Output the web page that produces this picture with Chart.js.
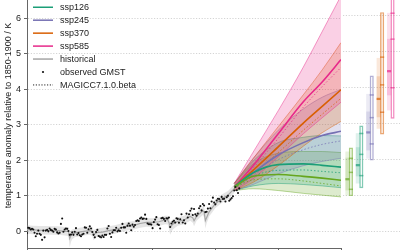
<!DOCTYPE html>
<html><head><meta charset="utf-8">
<script src="https://cdn.jsdelivr.net/npm/chart.js@4.4.1/dist/chart.umd.min.js"></script>
<style>
html,body{margin:0;padding:0;background:#fff;}
body{width:400px;height:250px;overflow:hidden;position:relative;}
#main{position:absolute;left:0;top:-21px;}
#boxes{position:absolute;left:343px;top:-21px;}
</style></head>
<body>
<canvas id="main" width="400" height="291"></canvas>
<canvas id="boxes" width="57" height="269"></canvas>
<script>
// ---------------- data ----------------
const scenarios = ['ssp119', 'ssp126', 'ssp245', 'ssp370', 'ssp585'];
const xTickYears = [1850, 1900, 1950, 2000, 2050, 2100];
const yTickValues = [0, 1, 2, 3, 4, 5, 6, 7];

const projYears = [2015, 2030, 2050, 2070, 2085, 2100];
const ssp119Median = [1.25, 1.55, 1.60, 1.55, 1.50, 1.44];
const ssp119Low    = [1.15, 1.20, 1.15, 1.07, 1.02, 0.97];
const ssp119High   = [1.35, 1.90, 2.20, 2.25, 2.25, 2.22];
const ssp119Magicc = [1.22, 1.45, 1.48, 1.42, 1.35, 1.28];
const ssp126Median = [1.25, 1.65, 1.88, 1.90, 1.86, 1.81];
const ssp126Low    = [1.15, 1.28, 1.35, 1.32, 1.28, 1.23];
const ssp126High   = [1.35, 1.98, 2.50, 2.65, 2.70, 2.69];
const ssp126Magicc = [1.22, 1.55, 1.72, 1.73, 1.69, 1.65];
const ssp245Median = [1.25, 1.65, 2.15, 2.50, 2.70, 2.82];
const ssp245Low    = [1.15, 1.32, 1.62, 1.85, 1.97, 2.06];
const ssp245High   = [1.35, 2.05, 2.85, 3.45, 3.78, 4.00];
const ssp245Magicc = [1.22, 1.58, 2.02, 2.30, 2.45, 2.55];
const ssp370Median = [1.25, 1.72, 2.38, 3.05, 3.52, 3.99];
const ssp370Low    = [1.15, 1.38, 1.85, 2.40, 2.78, 3.10];
const ssp370High   = [1.35, 2.05, 2.95, 3.85, 4.55, 5.32];
const ssp370Magicc = [1.22, 1.62, 2.22, 2.85, 3.30, 3.75];
const ssp585Median = [1.25, 1.85, 2.75, 3.65, 4.21, 4.84];
const ssp585Low    = [1.15, 1.48, 2.10, 2.75, 3.20, 3.64];
const ssp585High   = [1.35, 2.23, 3.40, 4.63, 5.63, 6.64];
const ssp585Magicc = [1.22, 1.78, 2.62, 3.50, 4.08, 4.62];

const histYears  = [1850,1855,1860,1865,1870,1875,1880,1883,1884,1885,1886,1888,1890,1895,1900,1902,1903,1904,1906,1910,1915,1920,1925,1930,1935,1940,1945,1950,1955,1960,1962,1963,1964,1966,1970,1975,1980,1982,1983,1985,1990,1991,1992,1993,1995,2000,2005,2010,2015];
const histMedian = [0.05,0.04,0.03,0.03,0.02,0.02,0.00,0.00,-0.20,-0.12,-0.08,-0.05,-0.03,0.00,0.02,0.00,-0.10,-0.07,-0.03,-0.02,0.02,0.05,0.10,0.14,0.17,0.22,0.25,0.25,0.27,0.32,0.32,0.25,0.12,0.20,0.28,0.32,0.42,0.38,0.30,0.42,0.58,0.55,0.30,0.38,0.55,0.78,0.92,1.02,1.20];
const histLow    = [-0.07,-0.08,-0.09,-0.09,-0.10,-0.10,-0.12,-0.13,-0.45,-0.30,-0.22,-0.17,-0.15,-0.12,-0.10,-0.13,-0.25,-0.20,-0.15,-0.14,-0.10,-0.07,-0.02,0.02,0.05,0.10,0.13,0.13,0.15,0.20,0.19,0.08,-0.10,0.05,0.16,0.20,0.30,0.24,0.14,0.30,0.46,0.40,0.08,0.22,0.42,0.66,0.80,0.90,1.08];
const histHigh   = [0.17,0.16,0.15,0.15,0.14,0.14,0.12,0.12,-0.05,0.02,0.05,0.07,0.09,0.12,0.14,0.12,0.03,0.05,0.09,0.10,0.14,0.17,0.22,0.26,0.29,0.34,0.37,0.37,0.39,0.44,0.44,0.38,0.27,0.33,0.40,0.44,0.54,0.50,0.44,0.54,0.70,0.68,0.48,0.52,0.67,0.90,1.04,1.14,1.32];

const obsStartYear = 1850;
const obsGmst = [
 -0.05,0.10,0.09,0.05,0.07,0.05,-0.04,-0.14,-0.07,0.02,
 -0.07,-0.10,-0.24,0.02,-0.17,0.02,0.04,0.00,0.08,0.04,
 0.02,-0.01,0.07,0.05,-0.03,-0.06,-0.04,0.21,0.36,-0.01,
 0.05,0.08,0.07,0.01,-0.10,-0.09,-0.03,-0.10,-0.01,0.09,
 -0.09,-0.05,-0.11,-0.14,-0.09,-0.07,0.11,0.10,-0.04,0.06,
 0.14,0.08,-0.02,-0.10,-0.17,-0.02,0.04,-0.13,-0.15,-0.17,
 -0.12,-0.16,-0.10,-0.10,0.08,0.15,-0.07,-0.16,-0.03,0.03,
 0.03,0.10,0.00,0.03,0.01,0.10,0.21,0.11,0.11,-0.04,
 0.16,0.22,0.16,0.03,0.19,0.13,0.18,0.29,0.31,0.29,
 0.36,0.39,0.35,0.36,0.47,0.35,0.22,0.20,0.20,0.19,
 0.09,0.26,0.33,0.40,0.20,0.18,0.08,0.37,0.38,0.35,
 0.29,0.37,0.36,0.39,0.12,0.22,0.27,0.30,0.25,0.37,
 0.35,0.24,0.34,0.48,0.25,0.31,0.22,0.50,0.39,0.48,
 0.58,0.64,0.46,0.63,0.48,0.44,0.50,0.65,0.71,0.59,
 0.77,0.73,0.54,0.55,0.64,0.77,0.65,0.84,0.95,0.81,
 0.76,0.87,0.92,0.91,0.84,0.97,0.91,0.92,0.84,0.96,
 1.00,0.86,0.90,0.94,0.99,1.15,1.25,1.16,1.08,1.21
];

// right panel: end-of-century ranges, one value per scenario
const filledP5   = [1.00, 1.33, 2.02, 2.85, 3.36];
const filledP17  = [1.14, 1.53, 2.25, 3.17, 3.78];
const filledP50  = [1.44, 1.83, 2.74, 3.67, 4.44];
const filledP83  = [2.03, 2.32, 3.31, 4.29, 5.33];
const filledP95  = [2.20, 2.71, 3.80, 4.80, 6.05];
const outlineP5  = [0.98, 1.20, 1.97, 2.69, 3.13];
const outlineP17 = [1.16, 1.54, 2.42, 3.30, 3.98];
const outlineP50 = [1.63, 2.13, 3.15, 4.06, 5.33];
const outlineP83 = [2.02, 2.71, 3.78, 4.83, 6.05];
const outlineP95 = [2.31, 2.92, 4.31, 6.07, 7.20];

const legendLabels = ['ssp119','ssp126','ssp245','ssp370','ssp585','historical','observed GMST','MAGICC7.1.0.beta'];
const yAxisTitle = 'temperature anomaly relative to 1850-1900 / K';

// ---------------- styles ----------------
const FONT = '"Liberation Sans", Arial, Helvetica, sans-serif';
const RGB = {ssp119:[102,166,30], ssp126:[27,158,119], ssp245:[117,112,179], ssp370:[217,95,2], ssp585:[231,41,138]};
const rgba = (c, a) => `rgba(${c[0]},${c[1]},${c[2]},${a})`;
const AXIS = '#666';
const GRID = '#d4d4d4';
const TEXT = '#222';

const series = {
  ssp119: {median: ssp119Median, low: ssp119Low, high: ssp119High, magicc: ssp119Magicc},
  ssp126: {median: ssp126Median, low: ssp126Low, high: ssp126High, magicc: ssp126Magicc},
  ssp245: {median: ssp245Median, low: ssp245Low, high: ssp245High, magicc: ssp245Magicc},
  ssp370: {median: ssp370Median, low: ssp370Low, high: ssp370High, magicc: ssp370Magicc},
  ssp585: {median: ssp585Median, low: ssp585Low, high: ssp585High, magicc: ssp585Magicc}
};
const pts = (xs, ys) => xs.map((x, i) => ({x: x, y: ys[i]}));

// ---------------- main chart datasets ----------------
const datasets = [];
datasets.push({label: 'hist-high', data: pts(histYears, histHigh), borderWidth: 0, pointRadius: 0, fill: '+1',
  backgroundColor: 'rgba(160,160,160,0.28)', order: 30, tension: 0});
datasets.push({label: 'hist-low', data: pts(histYears, histLow), borderWidth: 0, pointRadius: 0, fill: false, order: 31});
scenarios.forEach((s, k) => {
  const c = RGB[s];
  datasets.push({label: s + '-high', data: pts(projYears, series[s].high), borderColor: rgba(c, 0.5), borderWidth: 0.9,
    pointRadius: 0, fill: '+1', backgroundColor: rgba(c, 0.22), order: 20 - k, cubicInterpolationMode: 'monotone'});
  datasets.push({label: s + '-low', data: pts(projYears, series[s].low), borderColor: rgba(c, 0.5), borderWidth: 0.9,
    pointRadius: 0, fill: false, order: 20 - k, cubicInterpolationMode: 'monotone'});
});
datasets.push({label: 'historical', data: pts(histYears, histMedian), borderColor: '#a6a6a6', borderWidth: 1.2,
  pointRadius: 0, fill: false, order: 8});
scenarios.forEach((s) => {
  datasets.push({label: s + '-magicc', data: pts(projYears, series[s].magicc), borderColor: rgba(RGB[s], 0.75), borderWidth: 1,
    borderDash: [1.5, 2], pointRadius: 0, fill: false, order: 6, cubicInterpolationMode: 'monotone'});
});
scenarios.forEach((s) => {
  datasets.push({label: s, data: pts(projYears, series[s].median), borderColor: rgba(RGB[s], 1), borderWidth: 1.6,
    pointRadius: 0, fill: false, order: 4, cubicInterpolationMode: 'monotone'});
});
datasets.push({label: 'observed GMST', type: 'scatter', data: obsGmst.map((v, i) => ({x: obsStartYear + i, y: v})),
  showLine: false, pointRadius: 1.05, pointBackgroundColor: '#111', pointBorderWidth: 0, order: 0});

const legendPlugin = {
  id: 'insideLegend',
  afterDraw(chart) {
    const ctx = chart.ctx, a = chart.chartArea;
    ctx.save();
    ctx.font = '9px ' + FONT;
    ctx.textBaseline = 'middle';
    ctx.textAlign = 'left';
    legendLabels.forEach((lab, i) => {
      const y = a.top + 11.3 + i * 12.95;
      const x0 = a.left + 6, x1 = a.left + 26;
      ctx.setLineDash([]);
      if (i < scenarios.length || lab === 'historical') {
        ctx.strokeStyle = i < scenarios.length ? rgba(RGB[scenarios[i]], 1) : '#a6a6a6';
        ctx.lineWidth = 1.5;
        ctx.beginPath(); ctx.moveTo(x0, y); ctx.lineTo(x1, y); ctx.stroke();
      } else if (lab === 'observed GMST') {
        ctx.fillStyle = '#111';
        ctx.beginPath(); ctx.arc((x0 + x1) / 2, y, 1.1, 0, Math.PI * 2); ctx.fill();
      } else {
        ctx.strokeStyle = '#222'; ctx.lineWidth = 1; ctx.setLineDash([1.2, 1.6]);
        ctx.beginPath(); ctx.moveTo(x0, y); ctx.lineTo(x1, y); ctx.stroke();
      }
      ctx.setLineDash([]);
      ctx.fillStyle = TEXT;
      ctx.fillText(lab, a.left + 33, y + 0.5);
    });
    ctx.restore();
  }
};

const yScaleCommon = {min: -0.47, max: 7};

new Chart(document.getElementById('main'), {
  type: 'line',
  data: {datasets: datasets},
  options: {
    responsive: false, animation: false, devicePixelRatio: 1,
    layout: {padding: {left: 0, right: 59, top: 0, bottom: 0}},
    plugins: {legend: {display: false}, tooltip: {enabled: false}},
    elements: {line: {tension: 0}},
    scales: {
      x: {type: 'linear', min: 1850, max: 2100,
        afterBuildTicks: (s) => { s.ticks = xTickYears.map(v => ({value: v})); },
        ticks: {font: {family: FONT, size: 9}, color: TEXT, padding: 2, maxRotation: 0, callback: v => String(v)},
        grid: {display: true, drawOnChartArea: false, drawTicks: true, tickLength: 3, tickColor: AXIS},
        border: {display: true, color: AXIS, width: 1},
        afterFit: (s) => { s.height = 22; s.paddingLeft = 0; s.paddingRight = 0; }
      },
      y: Object.assign({}, yScaleCommon, {type: 'linear',
        afterBuildTicks: (s) => { s.ticks = yTickValues.map(v => ({value: v})); },
        ticks: {font: {family: FONT, size: 9}, color: TEXT, padding: 3},
        grid: {color: GRID, lineWidth: 1, drawTicks: true, tickLength: 3, tickColor: AXIS, tickBorderDash: []},
        border: {display: true, color: AXIS, width: 1, dash: [1.2, 1.6]},
        title: {display: true, text: yAxisTitle, font: {family: FONT, size: 9}, color: TEXT, padding: {top: 3, bottom: 0}},
        afterFit: (s) => { s.width = 27; s.paddingTop = 0; s.paddingBottom = 0; }
      })
    }
  },
  plugins: [legendPlugin]
});

// ---------------- right panel ----------------
const slotFilled = (i) => 3 * i;
const slotOutline = (i) => 3 * i + 1;
const fb = (xs, lo, hi) => scenarios.map((s, i) => ({x: xs(i), y: [lo[i], hi[i]]}));
const tick = (xs, v, h) => scenarios.map((s, i) => ({x: xs(i), y: [v[i] - h, v[i] + h]}));
const cols = (a) => scenarios.map(s => rgba(RGB[s], a));

const boxDatasets = [
  {data: fb(slotFilled, filledP5, filledP95), backgroundColor: cols(0.14), borderWidth: 0, order: 5},
  {data: fb(slotFilled, filledP17, filledP83), backgroundColor: cols(0.18), borderWidth: 0, order: 4},
  {data: tick(slotFilled, filledP50, 0.022), backgroundColor: cols(0.7), borderWidth: 0, order: 3},
  {data: fb(slotOutline, outlineP5, outlineP95), backgroundColor: 'rgba(255,255,255,0)', borderColor: cols(0.55),
    borderWidth: 0.8, borderSkipped: false, order: 2},
  {data: tick(slotOutline, outlineP17, 0.012), backgroundColor: cols(0.6), borderWidth: 0, order: 1},
  {data: tick(slotOutline, outlineP50, 0.012), backgroundColor: cols(0.6), borderWidth: 0, order: 1},
  {data: tick(slotOutline, outlineP83, 0.012), backgroundColor: cols(0.6), borderWidth: 0, order: 1}
];

new Chart(document.getElementById('boxes'), {
  type: 'bar',
  data: {datasets: boxDatasets},
  options: {
    responsive: false, animation: false, devicePixelRatio: 1,
    layout: {padding: 0},
    plugins: {legend: {display: false}, tooltip: {enabled: false}},
    datasets: {bar: {grouped: false, barPercentage: 1, categoryPercentage: 1}},
    scales: {
      x: {type: 'linear', display: false, min: -1.278, max: 15.15, offset: false},
      y: Object.assign({}, yScaleCommon, {type: 'linear', display: true,
        afterBuildTicks: (s) => { s.ticks = yTickValues.map(v => ({value: v})); },
        ticks: {display: false},
        grid: {color: GRID, lineWidth: 1, drawTicks: false},
        border: {display: false, dash: [1.2, 1.6]},
        afterFit: (s) => { s.width = 0; s.paddingTop = 0; s.paddingBottom = 0; }
      })
    }
  }
});
</script>
</body></html>
